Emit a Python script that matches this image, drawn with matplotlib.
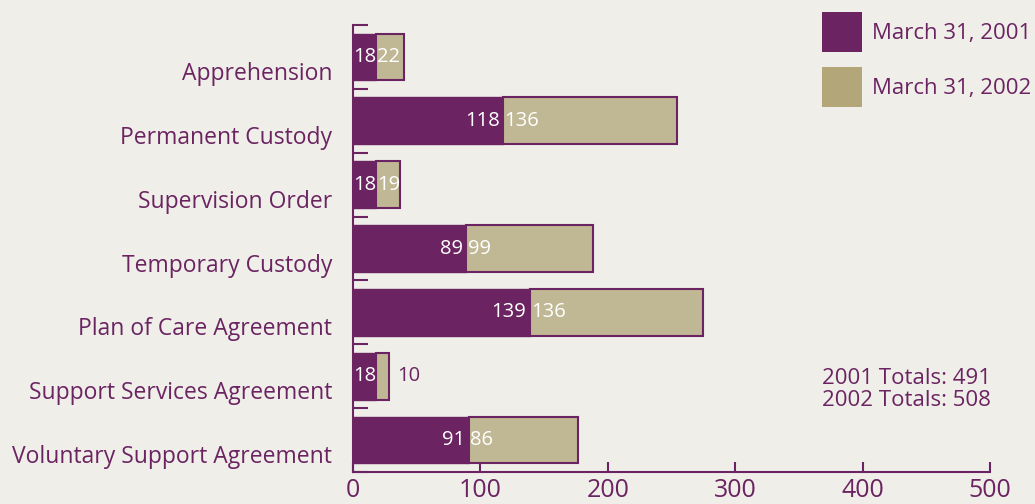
import matplotlib.pyplot as plt
import matplotlib.transforms as mtransforms
from matplotlib.patches import Patch
import numpy as np

plt.rcParams['font.family'] = ['Open Sans', 'DejaVu Sans']

categories = ["Apprehension", "Permanent Custody", "Supervision Order",
              "Temporary Custody", "Plan of Care Agreement",
              "Support Services Agreement", "Voluntary Support Agreement"]
values_2001 = [18, 118, 18, 89, 139, 18, 91]
values_2002 = [22, 136, 19, 99, 136, 10, 86]
totals = {"2001": 491, "2002": 508}

purple = "#6b2461"
tan = "#c0b795"
tan_legend = "#b3a77a"
bg = "#efeee9"

fig = plt.figure(figsize=(10.35, 5.04), dpi=100, facecolor=bg)
ax = fig.add_axes([353 / 1035, 1 - 472 / 504, (990 - 353) / 1035, (472 - 25) / 504])
ax.set_facecolor(bg)

y = np.arange(len(categories))
h = 0.73
ax.barh(y, values_2001, height=h, color=purple, edgecolor=purple, linewidth=1)
ax.barh(y, values_2002, left=values_2001, height=h, color=tan, edgecolor=purple, linewidth=1.5)

# value labels
fs_val = 14.5
for i, (a, b) in enumerate(zip(values_2001, values_2002)):
    if a < 30:
        ax.text(0.5, i, str(a), color="white", fontsize=fs_val, ha="left", va="center")
    else:
        ax.text(a - 3, i, str(a), color="white", fontsize=fs_val, ha="right", va="center")
    if b < 15:
        ax.text(a + b + 7, i, str(b), color=purple, fontsize=fs_val, ha="left", va="center")
    else:
        ax.text(a + 1, i, str(b), color="white", fontsize=fs_val, ha="left", va="center")

ax.set_xlim(0, 500)
ax.set_ylim(len(categories) - 0.5, -0.5)
ax.set_xticks(np.arange(0, 501, 100))
ax.tick_params(axis="x", direction="in", length=7, width=1.5, color=purple,
               labelcolor=purple, labelsize=18, pad=4)
ax.set_yticks(y)
ax.set_yticklabels(categories)
ax.tick_params(axis="y", which="major", length=0, labelcolor=purple, labelsize=16.5, pad=15)
ax.set_yticks(np.arange(-0.5, len(categories), 1), minor=True)
ax.tick_params(axis="y", which="minor", direction="in", length=11, width=1.5, color=purple)

offset = mtransforms.ScaledTranslation(0, -14 / 100, fig.dpi_scale_trans)
for lab in ax.get_yticklabels():
    lab.set_transform(lab.get_transform() + offset)

for side in ["top", "right"]:
    ax.spines[side].set_visible(False)
for side in ["left", "bottom"]:
    ax.spines[side].set_color(purple)
    ax.spines[side].set_linewidth(1.5)

handles = [Patch(facecolor=purple, edgecolor="none", label="March 31, 2001"),
           Patch(facecolor=tan_legend, edgecolor="none", label="March 31, 2002")]
fig.legend(handles=handles, loc="upper left", bbox_to_anchor=(822 / 1035, 1 - 12 / 504),
           frameon=False, fontsize=16, labelcolor=purple, handlelength=1.8,
           handleheight=2.4, handletextpad=0.45, labelspacing=0.68, borderaxespad=0,
           borderpad=0)

fig.text(822 / 1035, 1 - 379 / 504, "2001 Totals: %d" % totals["2001"], color=purple,
         fontsize=16, va="center")
fig.text(822 / 1035, 1 - 401 / 504, "2002 Totals: %d" % totals["2002"], color=purple,
         fontsize=16, va="center")

fig.savefig("out.png", dpi=100, facecolor=bg)
